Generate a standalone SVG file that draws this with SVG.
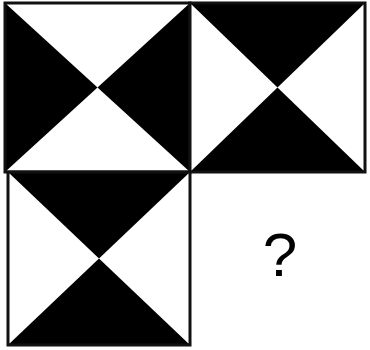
<svg xmlns="http://www.w3.org/2000/svg" width="370" height="350" viewBox="0 0 370 350">
<style>
.tri{fill:#000}
.frame{fill:none;stroke:#111;stroke-width:3}
.q{font-family:"Liberation Sans",Arial,sans-serif;font-size:62px;fill:#000;text-anchor:middle}
</style>
<rect width="370" height="350" fill="#fff"/>
<g id="square-top-left">
<rect x="5" y="3" width="185" height="169" fill="#fff"/>
<polygon class="tri" points="5,3 97.5,87.5 5,172"/>
<polygon class="tri" points="190,3 97.5,87.5 190,172"/>
<rect class="frame" x="5" y="3" width="185" height="169"/>
</g>
<g id="square-top-right">
<rect x="190" y="3" width="175" height="169" fill="#fff"/>
<polygon class="tri" points="190,3 365,3 277.5,87.5"/>
<polygon class="tri" points="190,172 365,172 277.5,87.5"/>
<rect class="frame" x="190" y="3" width="175" height="169" stroke-width="2"/>
</g>
<g id="square-bottom-left">
<rect x="8" y="172" width="182" height="173" fill="#fff"/>
<polygon class="tri" points="8,172 190,172 99,258.5"/>
<polygon class="tri" points="8,345 190,345 99,258.5"/>
<rect class="frame" x="8" y="172" width="182" height="173"/>
</g>
<text class="q" x="280" y="276">?</text>
</svg>
